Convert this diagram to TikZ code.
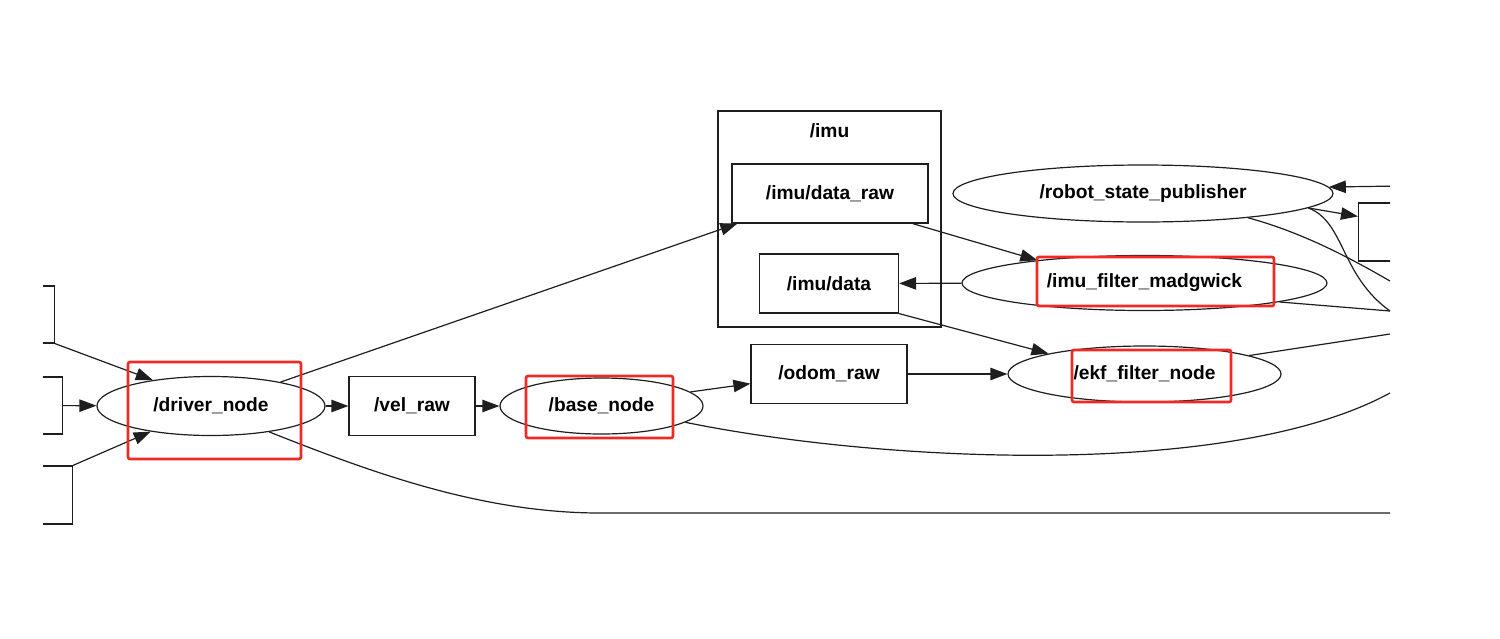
\documentclass[tikz,border=0pt]{standalone}
\usepackage{fontspec}
\setmainfont{Liberation Sans}
\usetikzlibrary{arrows.meta,shapes.geometric}
\definecolor{ink}{HTML}{1E1E1E}
\definecolor{hired}{HTML}{EE2A24}

\begin{document}
\begin{tikzpicture}[x=0.5pt,y=-0.5pt,
    font=\fontsize{9.6}{11}\selectfont\bfseries,
    topic/.style={draw=ink,line width=0.6pt,rectangle,inner sep=2pt,
                  minimum height=29.5pt},
    rosnode/.style={draw=ink,line width=0.6pt,ellipse,inner sep=2pt,
                    minimum height=28.5pt},
    cluster/.style={draw=ink,line width=0.6pt,rectangle,inner sep=0pt},
    edge/.style={draw=ink,line width=0.6pt,-{Triangle[length=8.5pt,width=6.2pt]}},
    wire/.style={draw=ink,line width=0.6pt},
    hilite/.style={draw=hired,line width=1.3pt,rounded corners=1pt}]
  \fill[white] (0,0) rectangle (1500,638);
  \useasboundingbox (0,0) rectangle (1500,638);
  \begin{scope}
  \clip (43,0) rectangle (1390,638);
  % cluster
  \node[cluster,minimum width=111.5pt,minimum height=108pt] (imu) at (829.5,219) {};
  \node (imutitle) at (829.5,131) {/imu};
  % topics and nodes
  \node[topic,anchor=east,minimum width=40pt,minimum height=28.5pt] (ext1) at (55,314.5) {};
  \node[topic,anchor=east,minimum width=40pt,minimum height=28.5pt] (ext2) at (63,405.5) {};
  \node[topic,anchor=east,minimum width=40pt,minimum height=29pt] (ext3) at (73,495) {};
  \node[topic,anchor=west,minimum width=40pt,minimum height=29pt] (extR) at (1358,232) {};
  \node[rosnode,minimum width=114pt,minimum height=29.5pt] (driver) at (211,406) {/driver\_node};
  \node[topic,minimum width=63pt] (velraw) at (412,406) {/vel\_raw};
  \node[rosnode,minimum width=101.5pt,minimum height=28pt] (base) at (601.5,406) {/base\_node};
  \node[topic,minimum width=78pt] (odomraw) at (829,374) {/odom\_raw};
  \node[rosnode,minimum width=136.5pt,minimum height=28pt] (ekf) at (1144.5,374) {/ekf\_filter\_node};
  \node[rosnode,minimum width=190pt] (rsp) at (1143,193.5) {/robot\_state\_publisher};
  \node[rosnode,minimum width=182.5pt,minimum height=27.5pt] (madgwick) at (1144.5,283) {/imu\_filter\_madgwick};
  \node[topic,minimum width=98pt] (dataraw) at (830,193.5) {/imu/data\_raw};
  \node[topic,minimum width=69.5pt] (imudata) at (829,283.5) {/imu/data};
  % loose ends past the right border
  \coordinate (offA) at (1400,186);
  \coordinate (offB) at (1390,281);
  \coordinate (offC) at (1390,311);
  \coordinate (offD) at (1390,334);
  \coordinate (offE) at (1390,393);
  \coordinate (offF) at (1390,513);
  % connectors
  \draw[edge] (ext1.south east) -- (driver.156);
  \draw[edge] (ext2) -- (driver);
  \draw[edge] (ext3.north east) -- (driver.203);
  \draw[edge] (driver) -- (velraw);
  \draw[edge] (velraw) -- (base);
  \draw[edge] (driver.19) -- (dataraw.198);
  \draw[edge] (base.9) -- (odomraw.187);
  \draw[edge] (dataraw.-20) -- (madgwick.168);
  \draw[edge] (madgwick) -- (imudata);
  \draw[edge] (imudata.south east) -- (ekf.168);
  \draw[edge] (odomraw) -- (ekf);
  \draw[edge] (offA) -- (rsp.2);
  \draw[edge] (rsp.-5) -- (extR.159);
  \draw[wire] (rsp.-13) .. controls (1300,232) and (1345,255) .. (offB);
  \draw[wire] (rsp.-5) .. controls (1345,222) and (1340,275) .. (offC);
  \draw[wire] (madgwick.-8) -- (offC);
  \draw[wire] (ekf.10) -- (offD);
  \draw[wire] (base.-11) .. controls (880,462) and (1230,480) .. (offE);
  \draw[wire] (driver.-24) .. controls (368,471) and (480,513) .. (600,513) -- (offF);
  \end{scope}
  % highlights
  \draw[hilite] (128,362) rectangle (301,459);
  \draw[hilite] (526,376) rectangle (673,438);
  \draw[hilite] (1037,257) rectangle (1274,306);
  \draw[hilite] (1072,350) rectangle (1231,402);
\end{tikzpicture}
\end{document}
